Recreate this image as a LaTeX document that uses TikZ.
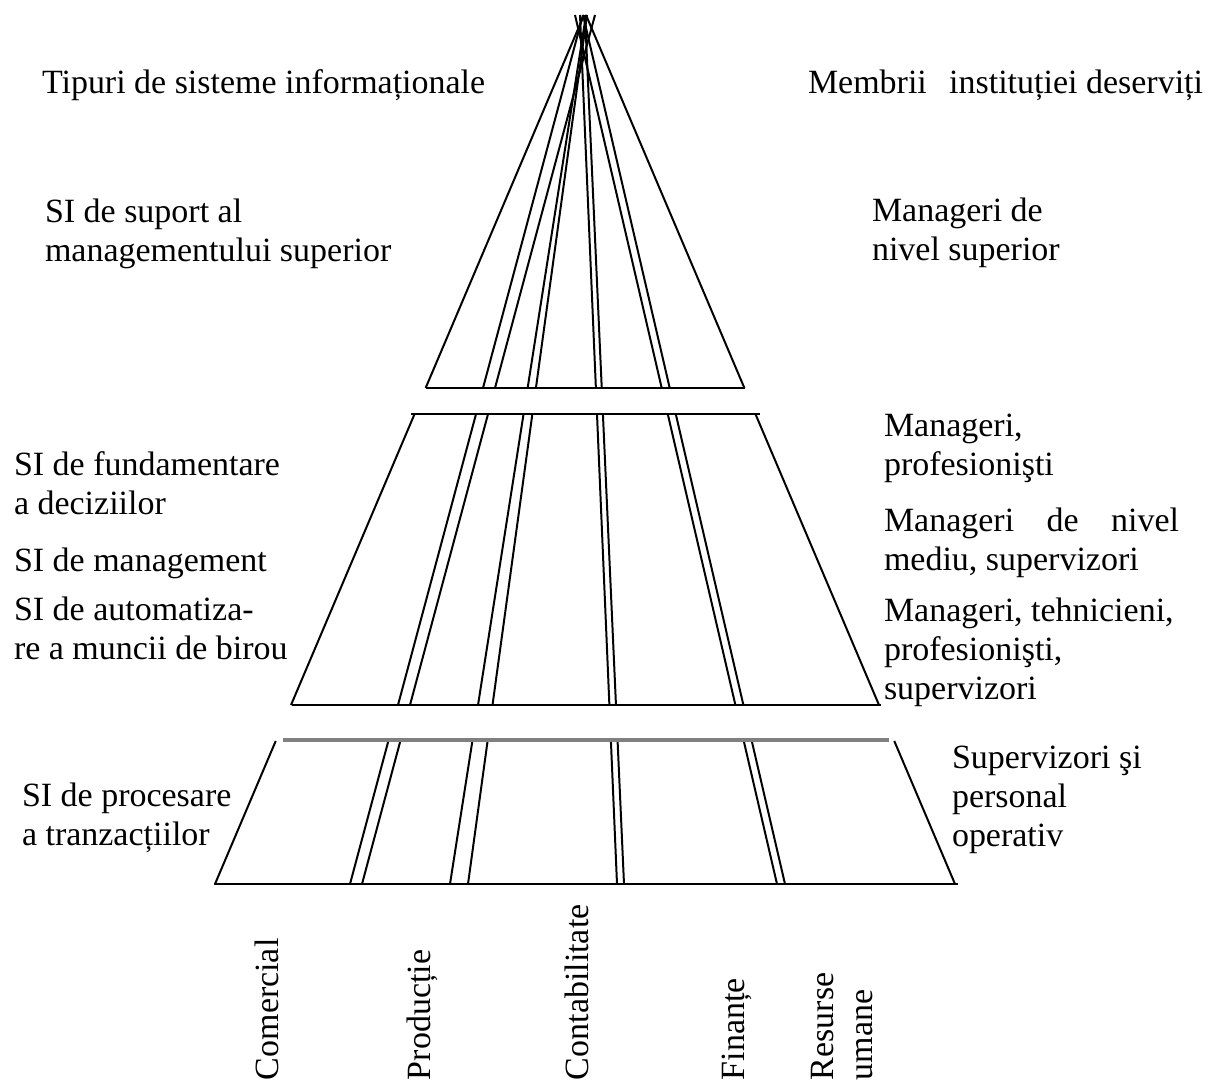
\documentclass[tikz,border=0pt]{standalone}
\usepackage{fontspec}
\setmainfont{Liberation Serif}
\usetikzlibrary{calc}
\begin{document}
\begin{tikzpicture}[x=0.03cm,y=-0.03cm,
  edge/.style={line width=1.7pt,black},
  graybar/.style={line width=3pt,color={rgb,255:red,128;green,128;blue,128}},
  lbl/.style={inner sep=0pt,outer sep=0pt,anchor=base west,align=left,font=\fontsize{29pt}{33pt}\selectfont},
  dept/.style={lbl,rotate=90}]
\useasboundingbox (0,0) rectangle (1214,1083);
% rays of the pyramid (top point at apex, bottom point on the base)
\coordinate (L-top) at (584,15); \coordinate (L-bot) at (215,884);
\coordinate (R-top) at (586,15); \coordinate (R-bot) at (955,884);
\coordinate (A-top) at (583,15); \coordinate (A-bot) at (350,884);
\coordinate (B-top) at (595,15); \coordinate (B-bot) at (362,884);
\coordinate (C-top) at (586,15); \coordinate (C-bot) at (450,884);
\coordinate (D-top) at (587,15); \coordinate (D-bot) at (468,884);
\coordinate (E-top) at (580,15); \coordinate (E-bot) at (617,884);
\coordinate (F-top) at (585,15); \coordinate (F-bot) at (624,884);
\coordinate (G-top) at (575,15); \coordinate (G-bot) at (777,884);
\coordinate (H-top) at (583,15); \coordinate (H-bot) at (785,884);
\foreach \ray in {L,R,A,B,C,D,E,F,G,H}{
  \draw[edge] (\ray-top) -- ($(\ray-top)!0.42923!(\ray-bot)$);
  \draw[edge] ($(\ray-top)!0.45915!(\ray-bot)$) -- ($(\ray-top)!0.79401!(\ray-bot)$);
  \draw[edge] ($(\ray-top)!0.8354!(\ray-bot)$) -- (\ray-bot);
}
% horizontal levels
\coordinate (b1l) at (426,388); \coordinate (b1r) at (745,388);
\coordinate (m1l) at (411,414); \coordinate (m1r) at (760,414);
\coordinate (m2l) at (292,705); \coordinate (m2r) at (881,705);
\coordinate (g1l) at (283,740); \coordinate (g1r) at (889,740);
\coordinate (b2l) at (214,884); \coordinate (b2r) at (958,884);
\draw[edge] (b1l) -- (b1r);
\draw[edge] (m1l) -- (m1r);
\draw[edge] (m2l) -- (m2r);
\draw[graybar] (g1l) -- (g1r);
\draw[edge] (b2l) -- (b2r);
% left labels (anchor = baseline of last line)
\node[lbl] (tipuri) at (42,93) {Tipuri de sisteme informaționale};
\node[lbl] (sisup) at (45,261) {SI de suport al\\managementului superior};
\node[lbl] (sifund) at (14,514) {SI de fundamentare\\a deciziilor};
\node[lbl] (simgmt) at (14,571) {SI de management};
\node[lbl] (siauto) at (14,659) {SI de automatiza-\\re a muncii de birou};
\node[lbl] (siproc) at (22,845) {SI de procesare\\a tranzacțiilor};
% right labels
\node[lbl] (membrii) at (808,93) {Membrii\hspace{19pt}instituției deserviți};
\node[lbl] (mansup) at (872,260) {Manageri de\\nivel superior};
\node[lbl] (manprof) at (884,475) {Manageri,\\profesionişti};
\node[lbl] (manmed) at (884,570) {\makebox[8.85cm][s]{Manageri de nivel}\\mediu, supervizori};
\node[lbl] (mantehn) at (884,699) {Manageri, tehnicieni,\\profesionişti,\\supervizori};
\node[lbl] (superv) at (952,846) {Supervizori şi\\personal\\operativ};
% department labels
\node[dept] (comercial) at (278,1080) {Comercial};
\node[dept] (productie) at (430,1080) {Producție};
\node[dept] (contab) at (588,1080) {Contabilitate};
\node[dept] (finante) at (744,1080) {Finanțe};
\node[dept] (resurse) at (872,1080) {Resurse\\umane};
\end{tikzpicture}
\end{document}
